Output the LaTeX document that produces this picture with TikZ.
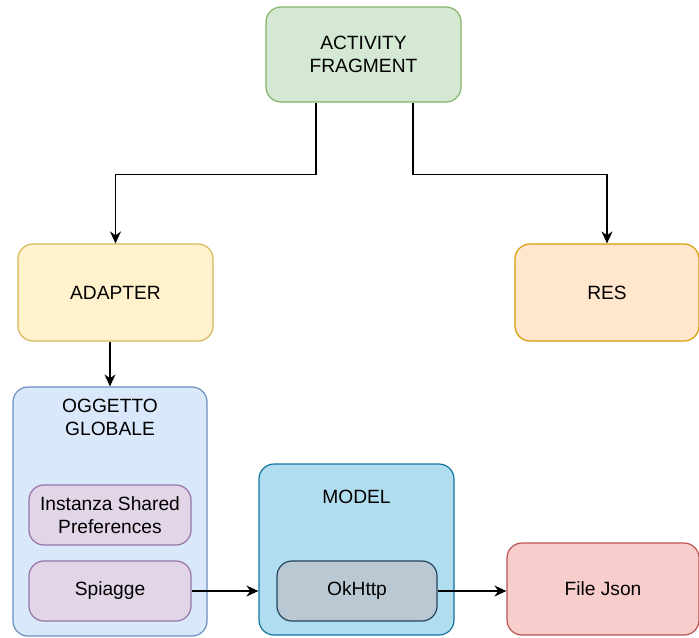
\documentclass[tikz,border=0pt]{standalone}
\usepackage{fontspec}
\setmainfont{Liberation Sans}
\usetikzlibrary{arrows.meta}

\definecolor{greenfill}{HTML}{D5E8D4}
\definecolor{greenline}{HTML}{82B366}
\definecolor{yellowfill}{HTML}{FFF2CC}
\definecolor{yellowline}{HTML}{D6B656}
\definecolor{orangefill}{HTML}{FFE6CC}
\definecolor{orangeline}{HTML}{D79B00}
\definecolor{bluefill}{HTML}{DAE8FC}
\definecolor{blueline}{HTML}{6C8EBF}
\definecolor{purplefill}{HTML}{E1D5E7}
\definecolor{purpleline}{HTML}{9673A6}
\definecolor{cyanfill}{HTML}{B1DDF0}
\definecolor{cyanline}{HTML}{10739E}
\definecolor{greyfill}{HTML}{BAC8D3}
\definecolor{greyline}{HTML}{23445D}
\definecolor{redfill}{HTML}{F8CECC}
\definecolor{redline}{HTML}{B85450}

\tikzset{
  box/.style={draw, line width=0.6pt, rounded corners=7.5pt, align=center,
    inner sep=0pt, font=\fontsize{9.6}{11.6}\selectfont},
  arr/.style={line width=0.65pt, -{Stealth[length=6pt,width=5.5pt]}}
}

\begin{document}
\begin{tikzpicture}[x=0.5pt,y=-0.5pt]
    \useasboundingbox (0,0) rectangle (699,637);

    \node[box, fill=greenfill, draw=greenline, minimum width=97.5pt, minimum height=47.5pt] (act) at (363.5,54.5) {ACTIVITY\\FRAGMENT};
    \node[box, fill=yellowfill, draw=yellowline, minimum width=97.5pt, minimum height=48.5pt] (adapter) at (115.5,292.5) {ADAPTER};
    \node[box, fill=orangefill, draw=orangeline, minimum width=92pt, minimum height=48.5pt] (res) at (607,292.5) {RES};

    % oggetto globale
    \node[box, fill=bluefill, draw=blueline, minimum width=97pt, minimum height=124.5pt] (oggetto) at (110,511.5) {};
    \node[box, draw=none, anchor=north] (oggtitle) at (110,398) {OGGETTO\\GLOBALE};
    \node[box, fill=purplefill, draw=purpleline, minimum width=81pt, minimum height=30pt] (instanza) at (110,515) {Instanza Shared\\Preferences};
    \node[box, fill=purplefill, draw=purpleline, minimum width=81pt, minimum height=30pt] (spiagge) at (110,591) {Spiagge};

    % model
    \node[box, fill=cyanfill, draw=cyanline, minimum width=97.5pt, minimum height=85.5pt] (model) at (356.5,549.5) {};
    \node[box, draw=none] (modeltitle) at (356.5,497) {MODEL};
    \node[box, fill=greyfill, draw=greyline, minimum width=80pt, minimum height=30pt] (okhttp) at (357,591) {OkHttp};

    \node[box, fill=redfill, draw=redline, minimum width=96pt, minimum height=46pt] (json) at (603,589) {File Json};

    \draw[arr] ([xshift=-23.75pt]act.south) -- ++(0,72) -| (adapter.north);
    \draw[arr] ([xshift=24.75pt]act.south) -- ++(0,72) -| (res.north);
    \draw[arr] (adapter.south -| oggetto.north) -- (oggetto.north);
    \draw[arr] (spiagge.east) -- (spiagge.east -| model.west);
    \draw[arr] (okhttp.east) -- (okhttp.east -| json.west);

\end{tikzpicture}
\end{document}
